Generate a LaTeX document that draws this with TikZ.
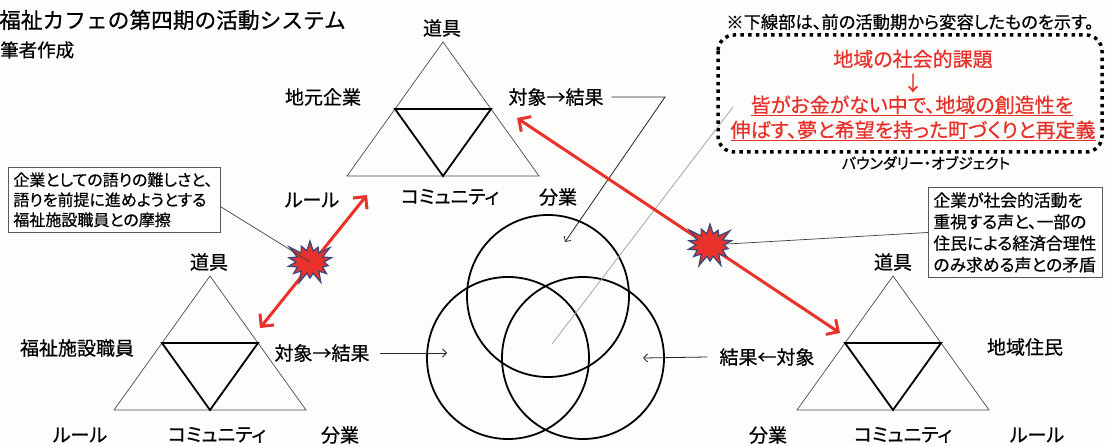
\documentclass[tikz,border=0pt]{standalone}
\usepackage{fontspec}
\newfontfamily\jp[RawFeature=+palt, FakeBold=0.6]{Noto Sans CJK JP}
\newfontfamily\jpf[FakeBold=0.6]{Noto Sans CJK JP}
\usetikzlibrary{arrows.meta,shapes.symbols}
\definecolor{redarr}{HTML}{E8322B}
\definecolor{burstline}{HTML}{3F4878}
\definecolor{txtred}{HTML}{E8302A}
\definecolor{bgcol}{HTML}{FDFDFB}
\newcommand\ulred[1]{\setbox0\hbox{#1}\rlap{\rule[-4pt]{\wd0}{1.3pt}}\box0}
\tikzset{
  pics/actsys/.style={code={
    \draw[outertri] (0,0) -- (-96,134) -- (96,134) -- cycle;
    \draw[innertri] (-48,67) -- (48,67) -- (0,134) -- cycle;
  }},
  outertri/.style={draw=black!70, line width=0.7pt, line join=miter},
  innertri/.style={draw=black, line width=1.8pt, line join=miter},
  lbl/.style={font=\jp\fontsize{19}{22}\selectfont},
  callout/.style={draw=black!65, line width=0.8pt, fill=white, align=left, inner sep=6pt},
  redarrow/.style={draw=redarr, line width=3pt,
     {Straight Barb[length=9pt,width=18pt]}-{Straight Barb[length=9pt,width=18pt]}},
  burst/.style={starburst, starburst points=14, starburst point height=13pt,
     fill=redarr, draw=burstline, line width=1.3pt, minimum width=54pt, minimum height=49pt, inner sep=0pt},
  venn/.style={circle, draw=black, line width=1.8pt, minimum size=162pt, inner sep=0pt},
  thinarrow/.style={draw=black!85, line width=0.8pt, -{Straight Barb[length=4pt,width=8pt]}},
  thinline/.style={draw=black!75, line width=0.7pt},
  grayline/.style={draw=black!35, line width=0.8pt},
  dotbox/.style={draw=black, line width=3.5pt, dash pattern=on 3.5pt off 4.2pt, rounded corners=16pt}
}
\begin{document}
\begin{tikzpicture}[x=1pt,y=-1pt, every node/.style={inner sep=0pt}]
\fill[bgcol] (0,0) rectangle (1105,446);
\useasboundingbox (0,0) rectangle (1105,446);

% title
\node (title) [anchor=west, font=\jpf\fontsize{21.7}{24}\selectfont] at (-1,20) {福祉カフェの第四期の活動システム};
\node (author) [anchor=west, font=\jpf\fontsize{18.5}{22}\selectfont] at (0,50) {筆者作成};

% note and boundary object
\node (note) [font=\jp\fontsize{17.3}{20}\selectfont] at (910,22) {※下線部は、前の活動期から変容したものを示す。};
\coordinate (bo1) at (718,35);
\coordinate (bo2) at (1102,152);
\draw[dotbox] (bo1) rectangle (bo2);
\node (bo-a) [font=\jp\fontsize{20}{24}\selectfont, text=txtred] at (913,59) {地域の社会的課題};
\node (bo-b) [font=\jp\fontsize{20}{24}\selectfont, text=txtred] at (913,83) {↓};
\node (bo-c) [font=\jp\fontsize{20}{24}\selectfont, text=txtred] at (912,106) {\ulred{皆がお金がない中で、地域の創造性を}};
\node (bo-d) [font=\jp\fontsize{20}{24}\selectfont, text=txtred] at (913,131) {\ulred{伸ばす、夢と希望を持った町づくりと再定義}};
\node (bo-lab) [font=\jp\fontsize{15}{18}\selectfont] at (926,163) {バウンダリー・オブジェクト};

% Venn circles
\node (cT) [venn] at (548,296) {};
\node (cL) [venn] at (508,358) {};
\node (cR) [venn] at (583,358) {};

% gray line from center to boundary object
\coordinate (gc) at (552,344);
\coordinate (gb) at (733,107);
\draw[grayline] (gc) -- (gb);

% top triangle (地元企業)
\pic at (443,42) {actsys};
\node (t1tool) [lbl] at (442,28) {道具};
\node (t1subj) [lbl] at (323,97) {地元企業};
\node (t1obj)  [lbl] at (556,97) {対象→結果};
\node (t1rule) [lbl] at (312,200) {ルール};
\node (t1comm) [lbl] at (450,197) {コミュニティ};
\node (t1div)  [lbl] at (558,197) {分業};

% bottom-left triangle (福祉施設職員)
\pic at (210,276) {actsys};
\node (t2tool) [lbl] at (209,262) {道具};
\node (t2subj) [lbl] at (77,348) {福祉施設職員};
\node (t2obj)  [lbl] at (322,353) {対象→結果};
\node (t2rule) [lbl] at (80,435) {ルール};
\node (t2comm) [lbl] at (217,435) {コミュニティ};
\node (t2div)  [lbl] at (340,435) {分業};

% bottom-right triangle (地域住民)
\pic at (893,276) {actsys};
\node (t3tool) [lbl] at (893,262) {道具};
\node (t3subj) [lbl] at (1025,347) {地域住民};
\node (t3obj)  [lbl] at (767,357) {結果←対象};
\node (t3rule) [lbl] at (1037,435) {ルール};
\node (t3comm) [lbl] at (903,435) {コミュニティ};
\node (t3div)  [lbl] at (768,435) {分業};

% object arrows into circles
\coordinate (bend1) at (665,97);
\coordinate (tgtT) at (565,242);
\coordinate (tgtL) at (447,353);
\coordinate (tgtR) at (643,358);
\draw[thinarrow] ([xshift=8pt]t1obj.east) -- (bend1) -- (tgtT);
\draw[thinarrow] ([xshift=10pt]t2obj.east) -- (tgtL);
\draw[thinarrow] ([xshift=-12pt]t3obj.west) -- (tgtR);

% contradiction arrows
\coordinate (aL1) at (260,328);
\coordinate (aL2) at (367,195);
\coordinate (aR1) at (517,118);
\coordinate (aR2) at (840,333);
\draw[redarrow] (aL1) -- (aL2);
\draw[redarrow] (aR1) -- (aR2);
\node (burstL) [burst] at (310,262) {};
\node (burstR) [burst] at (710,245) {};

% callouts
\node (boxL) [callout, anchor=north west, inner sep=5pt, text width=202pt, font=\jp\fontsize{16}{20}\selectfont] at (8,167) {企業としての語りの難しさと、\\語りを前提に進めようとする\\福祉施設職員との摩擦};
\node (boxR) [callout, anchor=north west, inner sep=5pt, text width=164pt, font=\jp\fontsize{16.8}{21.5}\selectfont] at (928,187) {企業が社会的活動を\\重視する声と、一部の\\住民による経済合理性\\のみ求める声との矛盾};
\draw[thinline] ([yshift=-7pt]boxL.east) -- (burstL.center);
\draw[thinline] (boxR.west) -- (burstR);
\end{tikzpicture}
\end{document}
